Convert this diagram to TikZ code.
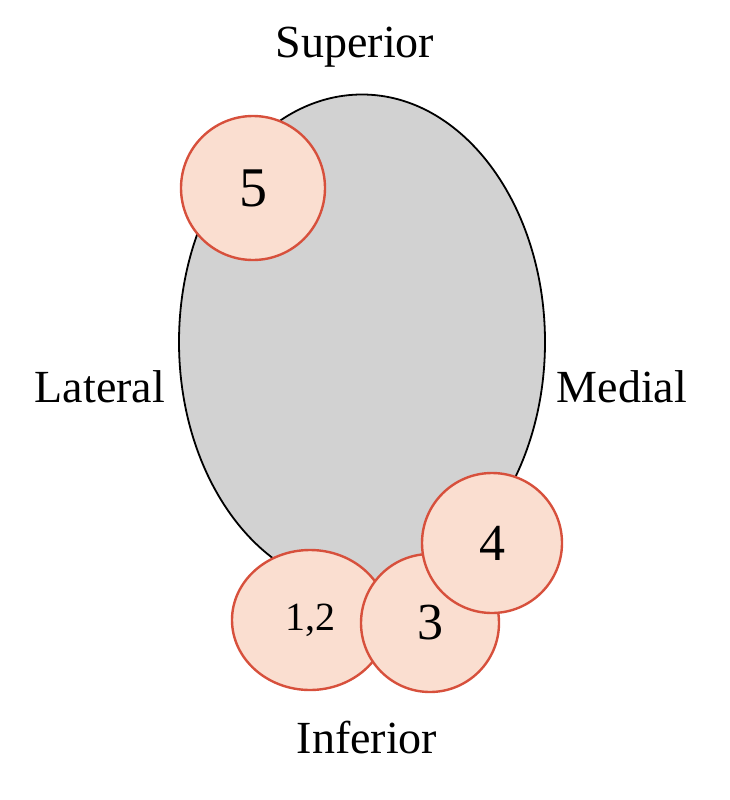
\documentclass[tikz,border=0pt]{standalone}
\usetikzlibrary{shapes.geometric}
\usepackage{fontspec}
\setmainfont{Liberation Serif}
\definecolor{rim}{RGB}{215,80,60}
\definecolor{pink}{RGB}{250,222,208}
\begin{document}
\begin{tikzpicture}[x=1pt,y=-1pt,
 spot/.style={draw=rim,fill=pink,line width=2.4pt},
 lab/.style={font=\fontsize{46}{50}\selectfont}]
\useasboundingbox (0,0) rectangle (730,800);
\node[draw=black,line width=1.8pt,fill=gray!35,ellipse,minimum width=366,minimum height=495,inner sep=0] (body) at (362,342) {};
\node[spot,circle,minimum size=144,inner sep=0] (c5) at (253,188) {\fontsize{56}{60}\selectfont 5};
\node[spot,ellipse,minimum width=156,minimum height=140,inner sep=0] (c12) at (310,620) {\fontsize{40}{44}\selectfont 1,2};
\node[spot,circle,minimum size=138,inner sep=0] (c3) at (430,623) {\fontsize{52}{56}\selectfont 3};
\node[spot,circle,minimum size=140,inner sep=0] (c4) at (492,543) {\fontsize{52}{56}\selectfont 4};
\node[lab] (sup) at (355,47) {Superior};
\node[lab] (lat) at (100,387) {Lateral};
\node[lab] (med) at (622,387) {Medial};
\node[lab] (inf) at (367,738) {Inferior};
\end{tikzpicture}
\end{document}
